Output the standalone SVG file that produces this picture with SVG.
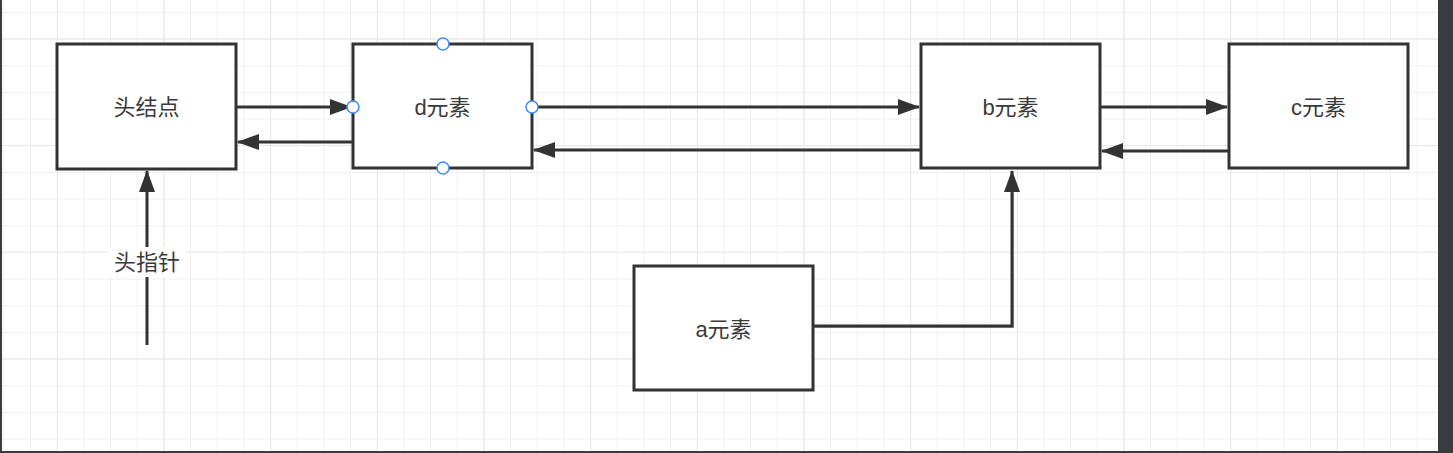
<svg xmlns="http://www.w3.org/2000/svg" width="1453" height="453" viewBox="0 0 1453 453">
<style>
.node{fill:#fff;stroke:#333;stroke-width:3}
.lbl{font-family:"Liberation Sans","Noto Sans CJK SC",sans-serif;font-size:22px;fill:#3a3a3a;text-anchor:middle;dominant-baseline:central}
.edge{fill:none;stroke:#333;stroke-width:3}
.handle{fill:#fff;stroke:#3d8ef0;stroke-width:1.5}
</style>
<defs>
<pattern id="minor" x="3.33" y="12" width="26.667" height="26.667" patternUnits="userSpaceOnUse">
<path d="M0 0H26.667M0 0V26.667" fill="none" stroke="#f0f0f0" stroke-width="2"/>
</pattern>
<pattern id="major" x="57" y="38.3" width="106.667" height="106.667" patternUnits="userSpaceOnUse">
<path d="M0 0H106.667M0 0V106.667" fill="none" stroke="#e8e8e8" stroke-width="2"/>
</pattern>
<marker id="arr" viewBox="0 0 22 16" refX="21" refY="8" markerWidth="22" markerHeight="16" markerUnits="userSpaceOnUse" orient="auto">
<path d="M0 0L22 8L0 16Z" fill="#333"/>
</marker>
</defs>
<rect width="1453" height="453" fill="#fff"/>
<rect width="1453" height="453" fill="url(#minor)"/>
<rect width="1453" height="453" fill="url(#major)"/>
<rect x="0" y="0" width="2" height="453" fill="#373c40"/>
<rect x="0" y="451" width="1453" height="2" fill="#373c40"/>
<rect x="1438" y="0" width="15" height="453" fill="#373c40"/>

<g id="connectors">
<path class="edge" d="M237 107H351" marker-end="url(#arr)"/>
<path class="edge" d="M353 142H238" marker-end="url(#arr)"/>
<path class="edge" d="M533 107H919" marker-end="url(#arr)"/>
<path class="edge" d="M921 150H534" marker-end="url(#arr)"/>
<path class="edge" d="M1101 107H1227" marker-end="url(#arr)"/>
<path class="edge" d="M1229 151H1102" marker-end="url(#arr)"/>
<path class="edge" d="M147 345V171" marker-end="url(#arr)"/>
<path d="M814 327.5H1013.5V190" fill="none" stroke="#c9a0a0" stroke-width="1"/>
<path class="edge" d="M814 326H1012V171" marker-end="url(#arr)"/>
<g id="label-head-pointer">
<rect x="108" y="247" width="78" height="30" fill="#fff"/>
<text class="lbl" x="147" y="262">头指针</text>
</g>
</g>

<g id="node-head">
<rect class="node" x="57" y="44" width="179" height="125"/>
<text class="lbl" x="146.5" y="107">头结点</text>
</g>
<g id="node-d">
<rect class="node" x="353" y="44" width="179" height="124"/>
<text class="lbl" x="442.5" y="107">d元素</text>
<circle class="handle" cx="443" cy="44" r="6"/>
<circle class="handle" cx="443" cy="168" r="6"/>
<circle class="handle" cx="353" cy="107" r="6"/>
<circle class="handle" cx="532" cy="107" r="6"/>
</g>
<g id="node-b">
<rect class="node" x="921" y="44" width="179" height="124"/>
<text class="lbl" x="1010.5" y="107">b元素</text>
</g>
<g id="node-c">
<rect class="node" x="1229" y="44" width="179" height="124"/>
<text class="lbl" x="1318.5" y="107">c元素</text>
</g>
<g id="node-a">
<rect class="node" x="634" y="266" width="179" height="124"/>
<text class="lbl" x="723.5" y="329">a元素</text>
</g>
</svg>
